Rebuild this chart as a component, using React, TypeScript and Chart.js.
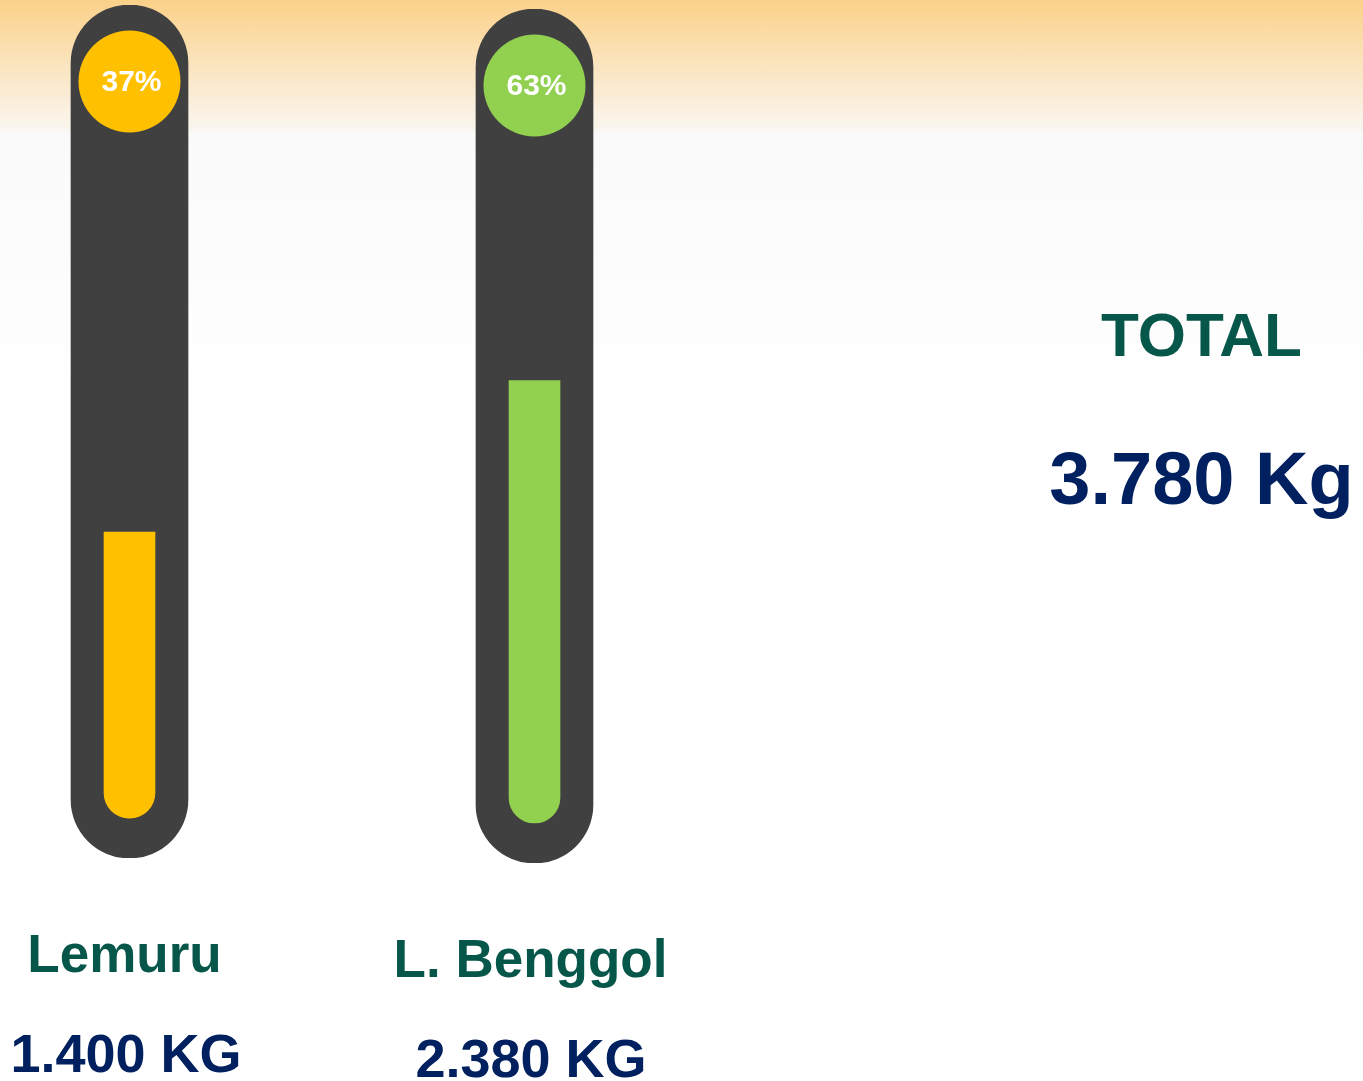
import React, { useEffect, useRef } from "react";
import { Chart, registerables } from "chart.js";

Chart.register(...registerables);

const categories = ["Lemuru", "L. Benggol"];
const weightLabels = ["1.400 KG", "2.380 KG"];
const percents = [37, 63];
const fillColors = ["#FFC000", "#92D050"];
const totalLabel = "TOTAL";
const totalValue = "3.780 Kg";

const SCALE_MIN = -17.33;
const SCALE_MAX = 124.9;
const BULB_BASE = -10.67;

const TRACK = "#404040";
const GREEN_TEXT = "#07564A";
const NAVY = "#002060";
const FONT = '"Liberation Sans", Arial, sans-serif';

const circlePlugin = {
  id: "circleBadge",
  afterDatasetsDraw(chart: any) {
    const { ctx, chartArea } = chart;
    const meta = chart.getDatasetMeta(0);
    const bar = meta.data[0];
    if (!bar) return;
    const x = bar.x;
    const y = chartArea.top + 76.5;
    const opts = chart.options.plugins.circleBadge;
    ctx.save();
    ctx.beginPath();
    ctx.arc(x, y, 51, 0, Math.PI * 2);
    ctx.fillStyle = opts.color;
    ctx.fill();
    ctx.fillStyle = "#FFFFFF";
    ctx.font = `bold 30px ${FONT}`;
    ctx.textAlign = "center";
    ctx.textBaseline = "middle";
    ctx.fillText(opts.text, x + 2, y + 1);
    ctx.restore();
  },
};

function Tube({ index, left, top, width, height }: { index: number; left: number; top: number; width: number; height: number }) {
  const ref = useRef<HTMLCanvasElement | null>(null);
  useEffect(() => {
    if (!ref.current) return;
    const chart = new Chart(ref.current, {
      type: "bar",
      data: {
        labels: [categories[index]],
        datasets: [
          {
            label: "fill",
            data: [[BULB_BASE, percents[index]]] as any,
            backgroundColor: fillColors[index],
            barThickness: 51,
            grouped: false,
            borderSkipped: false,
            borderRadius: { topLeft: 0, topRight: 0, bottomLeft: 25.5, bottomRight: 25.5 },
            order: 0,
          } as any,
          {
            label: "track",
            data: [[SCALE_MIN, SCALE_MAX]] as any,
            backgroundColor: TRACK,
            barThickness: 117,
            grouped: false,
            borderSkipped: false,
            borderRadius: 58.5,
            order: 1,
          } as any,
        ],
      },
      options: {
        responsive: false,
        maintainAspectRatio: false,
        animation: false,
        layout: { padding: 0 },
        scales: {
          x: { display: false, offset: true },
          y: { display: false, min: SCALE_MIN, max: SCALE_MAX },
        },
        plugins: {
          legend: { display: false },
          tooltip: { enabled: false },
          circleBadge: { color: fillColors[index], text: `${percents[index]}%` },
        } as any,
      },
      plugins: [circlePlugin],
    });
    return () => chart.destroy();
  }, [index]);
  return (
    <canvas
      ref={ref}
      width={width}
      height={height}
      style={{ position: "absolute", left, top, width, height }}
    />
  );
}

function Label({ text, cx, top, size, color }: { text: string; cx: number; top: number; size: number; color: string }) {
  return (
    <div
      style={{
        position: "absolute",
        left: cx - 300,
        width: 600,
        top,
        textAlign: "center",
        fontFamily: FONT,
        fontWeight: "bold",
        fontSize: size,
        lineHeight: 1,
        color,
        whiteSpace: "nowrap",
      }}
    >
      {text}
    </div>
  );
}

export default function App() {
  return (
    <div
      style={{
        position: "absolute",
        left: 0,
        top: 0,
        width: 1363,
        height: 1081,
        overflow: "hidden",
        background:
          "linear-gradient(to bottom, #FBD189 0px, #FBDDAA 40px, #FAEBD2 90px, #FAF6EE 128px, #FAFAFA 134px, #FCFCFC 250px, #FFFFFF 400px)",
      }}
    >
      <Tube index={0} left={30} top={5} width={199} height={853} />
      <Tube index={1} left={435} top={9} width={199} height={854} />
      <Label text={categories[0]} cx={124.5} top={927} size={53} color={GREEN_TEXT} />
      <Label text={weightLabels[0]} cx={126} top={1026} size={54} color={NAVY} />
      <Label text={categories[1]} cx={530.5} top={932} size={53} color={GREEN_TEXT} />
      <Label text={weightLabels[1]} cx={531} top={1031} size={54} color={NAVY} />
      <Label text={totalLabel} cx={1201.5} top={303.5} size={62} color={GREEN_TEXT} />
      <Label text={totalValue} cx={1201.5} top={442} size={74} color={NAVY} />
    </div>
  );
}
